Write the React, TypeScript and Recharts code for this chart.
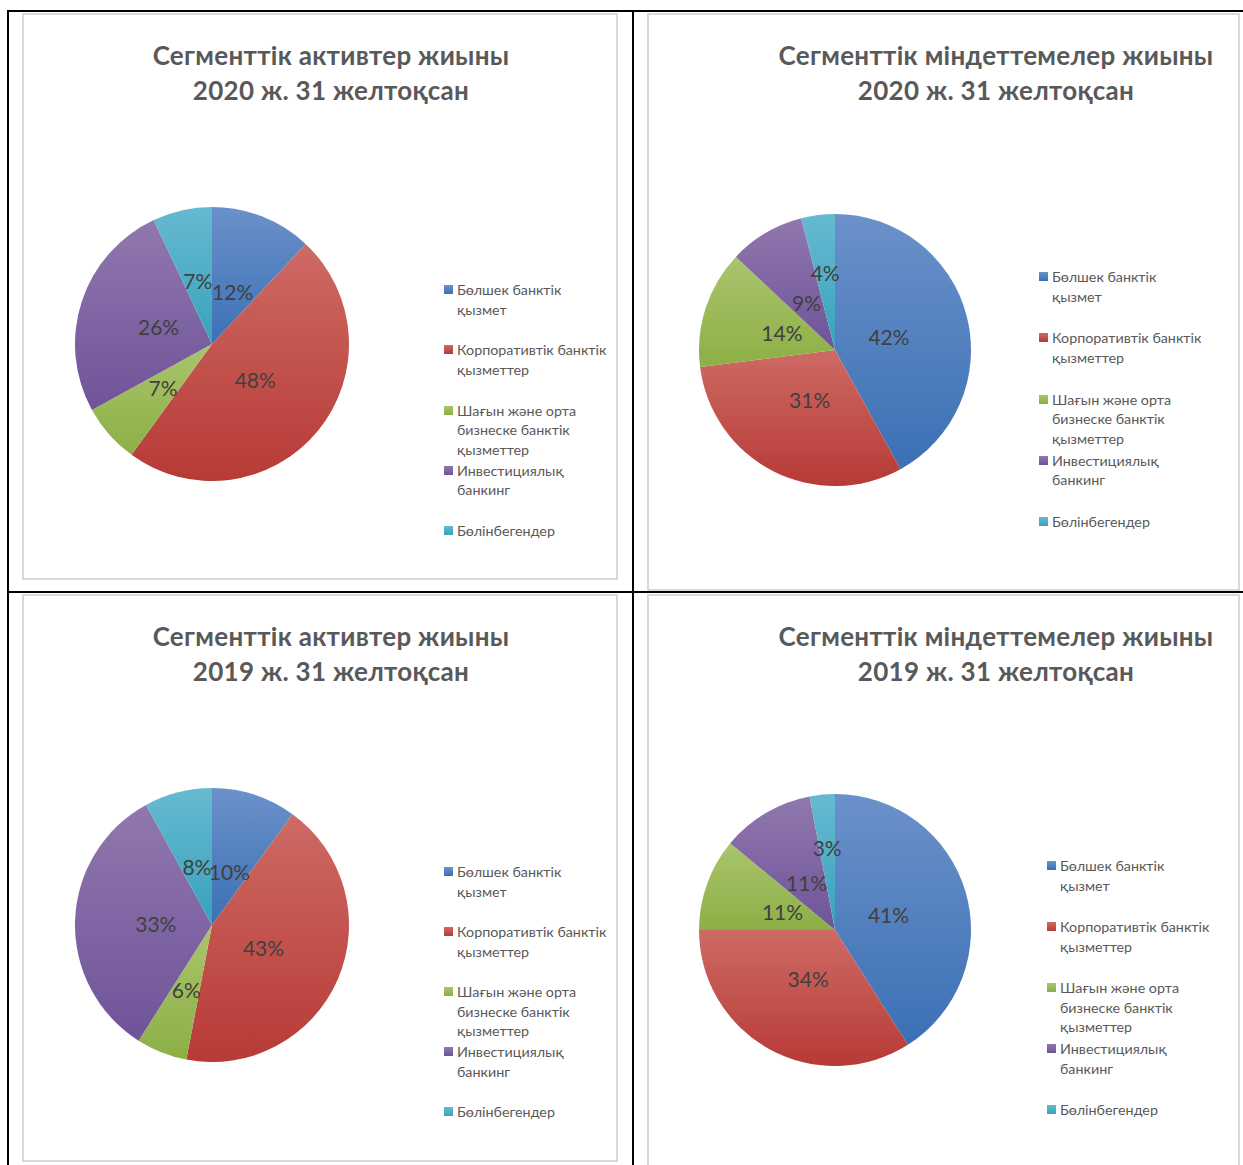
import React from 'react';
import { PieChart, Pie, Cell, Legend } from 'recharts';

// ---------- data ----------
const categories = [
  'Бөлшек банктік\nқызмет',
  'Корпоративтік банктік\nқызметтер',
  'Шағын және орта\nбизнеске банктік\nқызметтер',
  'Инвестициялық\nбанкинг',
  'Бөлінбегендер',
];
const assets2020 = [12, 48, 7, 26, 7];
const liabilities2020 = [42, 31, 14, 9, 4];
const assets2019 = [10, 43, 6, 33, 8];
const liabilities2019 = [41, 34, 11, 11, 3];

const titleAssets2020 = ['Сегменттік активтер жиыны', '2020 ж. 31 желтоқсан'];
const titleLiab2020 = ['Сегменттік міндеттемелер жиыны', '2020 ж. 31 желтоқсан'];
const titleAssets2019 = ['Сегменттік активтер жиыны', '2019 ж. 31 желтоқсан'];
const titleLiab2019 = ['Сегменттік міндеттемелер жиыны', '2019 ж. 31 желтоқсан'];

// ---------- styles ----------
const FONT = 'Lato, "Open Sans", "Noto Sans", sans-serif';
const GRAD = [
  ['#6B91CA', '#3B70B5'],
  ['#CE6A64', '#B73A36'],
  ['#AAC56D', '#8CAF45'],
  ['#9078AE', '#6F5399'],
  ['#66BAD0', '#38A2BD'],
];
const RAD = Math.PI / 180;

const makeLabel = (props: any) => {
  const { cx, cy, midAngle, outerRadius, percent, value } = props;
  const t = Math.min(1, Math.max(0, (0.09 - percent) / 0.06));
  const d = outerRadius * (0.41 + 0.2 * t);
  const x = cx + d * Math.cos(-midAngle * RAD);
  const y = cy + d * Math.sin(-midAngle * RAD);
  return (
    <text
      x={x}
      y={y}
      textAnchor="middle"
      dominantBaseline="central"
      fill="#404040"
      style={{ fontFamily: FONT, fontSize: 21 }}
    >
      {`${value}%`}
    </text>
  );
};

type PanelProps = {
  id: string;
  left: number;
  top: number;
  width: number;
  height: number;
  title: string[];
  titleX: number;
  values: number[];
  cx: number;
  cy: number;
  r: number;
  legendLeft: number;
  legendTop: number;
  legendStep: number;
};

const Panel = (p: PanelProps) => {
  const data = categories.map((name, i) => ({ name, value: p.values[i] }));
  const legendContent = () => (
    <div style={{ fontFamily: FONT, fontSize: 14.3, color: '#595959' }}>
      {categories.map((c, i) => (
        <div
          key={i}
          style={{ position: 'relative', height: p.legendStep, lineHeight: '19.5px' }}
        >
          <div
            style={{
              position: 'absolute',
              left: 0,
              top: 5,
              width: 9,
              height: 9,
              background: `linear-gradient(${GRAD[i][0]}, ${GRAD[i][1]})`,
            }}
          />
          <div style={{ position: 'absolute', left: 13, top: 0, whiteSpace: 'pre-line' }}>
            {c}
          </div>
        </div>
      ))}
    </div>
  );
  return (
    <div
      style={{
        position: 'absolute',
        left: p.left,
        top: p.top,
        width: p.width,
        height: p.height,
        background: '#fff',
      }}
    >
      <PieChart
        width={p.width}
        height={p.height}
        margin={{ top: 0, right: 0, bottom: 0, left: 0 }}
        style={{ position: 'absolute', left: 0, top: 0 }}
      >
        <defs>
          {GRAD.map((g, i) => (
            <linearGradient key={i} id={`${p.id}-g${i}`} x1="0" y1="0" x2="0" y2="1">
              <stop offset="0%" stopColor={g[0]} />
              <stop offset="100%" stopColor={g[1]} />
            </linearGradient>
          ))}
        </defs>
        <Pie
          data={data}
          dataKey="value"
          nameKey="name"
          cx={p.cx}
          cy={p.cy}
          outerRadius={p.r}
          startAngle={90}
          endAngle={-270}
          stroke="none"
          label={makeLabel}
          labelLine={false}
          isAnimationActive={false}
        >
          {data.map((d, i) => (
            <Cell key={i} fill={`url(#${p.id}-g${i})`} />
          ))}
        </Pie>
        <Legend
          layout="vertical"
          content={legendContent}
          wrapperStyle={{ position: 'absolute', left: p.legendLeft, top: p.legendTop, width: 190 }}
        />
      </PieChart>
      <div
        style={{
          position: 'absolute',
          left: p.titleX - 300,
          width: 600,
          top: 25,
          textAlign: 'center',
          fontFamily: FONT,
          fontWeight: 700,
          fontSize: 26,
          letterSpacing: 0.3,
          lineHeight: '35px',
          color: '#595959',
          whiteSpace: 'nowrap',
        }}
      >
        {p.title.map((t, i) => (
          <div key={i}>{t}</div>
        ))}
      </div>
      <div
        style={{
          position: 'absolute',
          inset: 0,
          border: '2px solid #D9D9D9',
          boxSizing: 'border-box',
          pointerEvents: 'none',
        }}
      />
    </div>
  );
};

const Line = ({ l, t, w, h }: { l: number; t: number; w: number; h: number }) => (
  <div style={{ position: 'absolute', left: l, top: t, width: w, height: h, background: '#000' }} />
);

export default function App() {
  return (
    <div
      style={{
        position: 'absolute',
        left: 0,
        top: 0,
        width: 1243,
        height: 1165,
        background: '#fff',
        overflow: 'hidden',
      }}
    >
      <Panel
        id="a20"
        left={22}
        top={13}
        width={596}
        height={567}
        title={titleAssets2020}
        titleX={309}
        values={assets2020}
        cx={190}
        cy={331}
        r={137}
        legendLeft={422}
        legendTop={267}
        legendStep={60.3}
      />
      <Panel
        id="l20"
        left={647}
        top={13}
        width={593}
        height={578}
        title={titleLiab2020}
        titleX={349}
        values={liabilities2020}
        cx={188}
        cy={337}
        r={136}
        legendLeft={392}
        legendTop={254}
        legendStep={61.25}
      />
      <Panel
        id="a19"
        left={22}
        top={594}
        width={596}
        height={568}
        title={titleAssets2019}
        titleX={309}
        values={assets2019}
        cx={190}
        cy={331}
        r={137}
        legendLeft={422}
        legendTop={268}
        legendStep={60}
      />
      <Panel
        id="l19"
        left={647}
        top={594}
        width={593}
        height={590}
        title={titleLiab2019}
        titleX={349}
        values={liabilities2019}
        cx={188}
        cy={336}
        r={136}
        legendLeft={400}
        legendTop={262}
        legendStep={61}
      />
      <Line l={7} t={10} w={1236} h={2} />
      <Line l={7} t={10} w={2} h={1155} />
      <Line l={632} t={10} w={2} h={1155} />
      <Line l={7} t={591} w={1236} h={2} />
    </div>
  );
}
